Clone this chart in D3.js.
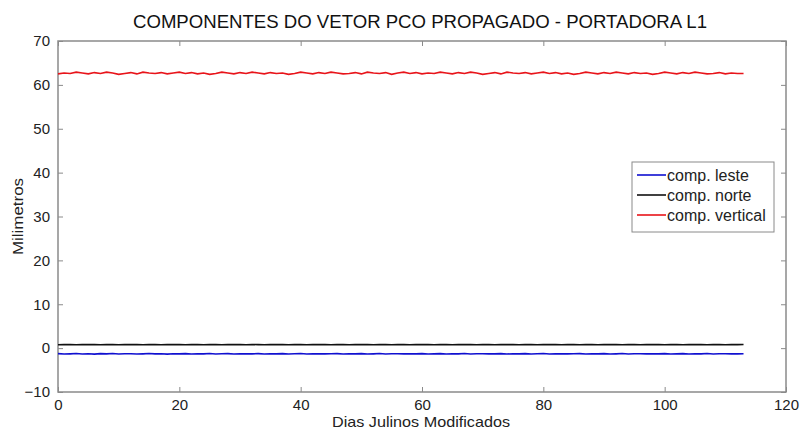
<!DOCTYPE html>
<html>
<head>
<meta charset="utf-8">
<script src="https://cdn.jsdelivr.net/npm/d3@7"></script>
<style>
  body { margin: 0; background: #fff; }
  svg { display: block; font-family: "Liberation Sans", Arial, sans-serif; }
</style>
</head>
<body>
<div id="chart"></div>
<script>
// Chart data (one value per day)
const title = "COMPONENTES DO VETOR PCO PROPAGADO - PORTADORA L1";
const xLabel = "Dias Julinos Modificados";
const yLabel = "Milimetros";
const xTicks = [0, 20, 40, 60, 80, 100, 120];
const yTicks = [-10, 0, 10, 20, 30, 40, 50, 60, 70];
const seriesNames = ["comp. leste", "comp. norte", "comp. vertical"];
const seriesColors = ["#1010d0", "#111111", "#e8141a"];

const days = d3.range(0, 114);

const leste = [
  -1.25, -1.35, -1.30, -1.22, -1.33, -1.28, -1.36, -1.26, -1.31, -1.24,
  -1.34, -1.29, -1.27, -1.35, -1.30, -1.23, -1.32, -1.28, -1.36, -1.27,
  -1.30, -1.25, -1.34, -1.29, -1.31, -1.24, -1.33, -1.28, -1.26, -1.35,
  -1.30, -1.27, -1.32, -1.25, -1.34, -1.29, -1.31, -1.26, -1.33, -1.28,
  -1.24, -1.35, -1.30, -1.27, -1.32, -1.29, -1.25, -1.34, -1.28, -1.31,
  -1.26, -1.33, -1.30, -1.24, -1.35, -1.29, -1.27, -1.32, -1.28, -1.31,
  -1.25, -1.34, -1.30, -1.26, -1.33, -1.28, -1.31, -1.24, -1.35, -1.29,
  -1.27, -1.32, -1.30, -1.25, -1.34, -1.28, -1.31, -1.26, -1.33, -1.29,
  -1.24, -1.35, -1.30, -1.27, -1.32, -1.28, -1.25, -1.34, -1.29, -1.31,
  -1.26, -1.33, -1.30, -1.24, -1.35, -1.28, -1.27, -1.32, -1.29, -1.31,
  -1.25, -1.34, -1.30, -1.26, -1.33, -1.28, -1.31, -1.24, -1.35, -1.29,
  -1.27, -1.32, -1.30, -1.28
];

const norte = [
  0.78, 0.82, 0.80, 0.76, 0.83, 0.79, 0.81, 0.77, 0.84, 0.80,
  0.78, 0.82, 0.79, 0.81, 0.76, 0.83, 0.80, 0.78, 0.82, 0.79,
  0.81, 0.77, 0.84, 0.80, 0.78, 0.82, 0.80, 0.76, 0.83, 0.79,
  0.81, 0.77, 0.82, 0.80, 0.78, 0.84, 0.79, 0.81, 0.76, 0.83,
  0.80, 0.78, 0.82, 0.79, 0.81, 0.77, 0.84, 0.80, 0.78, 0.82,
  0.79, 0.81, 0.76, 0.83, 0.80, 0.78, 0.82, 0.80, 0.77, 0.84,
  0.79, 0.81, 0.78, 0.82, 0.80, 0.76, 0.83, 0.79, 0.81, 0.77,
  0.84, 0.80, 0.78, 0.82, 0.79, 0.81, 0.76, 0.83, 0.80, 0.78,
  0.82, 0.79, 0.81, 0.77, 0.84, 0.80, 0.78, 0.82, 0.80, 0.76,
  0.83, 0.79, 0.81, 0.77, 0.82, 0.80, 0.78, 0.84, 0.79, 0.81,
  0.76, 0.83, 0.80, 0.78, 0.82, 0.79, 0.81, 0.77, 0.84, 0.80,
  0.78, 0.82, 0.79, 0.81
];

const vertical = [
  62.5, 62.7, 62.6, 62.9, 62.7, 62.5, 62.8, 62.6, 62.9, 62.7,
  62.4, 62.6, 62.8, 62.5, 62.9, 62.7, 62.6, 62.8, 62.5, 62.7,
  62.9, 62.6, 62.8, 62.5, 62.7, 62.4, 62.6, 62.9, 62.7, 62.5,
  62.8, 62.6, 62.9, 62.7, 62.5, 62.8, 62.6, 62.7, 62.4, 62.6,
  62.9, 62.7, 62.5, 62.8, 62.6, 62.9, 62.7, 62.5, 62.6, 62.8,
  62.5, 62.9, 62.7, 62.6, 62.8, 62.4, 62.7, 62.9, 62.6, 62.8,
  62.5, 62.7, 62.6, 62.9, 62.7, 62.5, 62.8, 62.6, 62.9, 62.7,
  62.4, 62.6, 62.8, 62.5, 62.9, 62.7, 62.6, 62.8, 62.5, 62.7,
  62.9, 62.6, 62.8, 62.5, 62.7, 62.4, 62.6, 62.9, 62.7, 62.5,
  62.8, 62.6, 62.9, 62.7, 62.5, 62.8, 62.6, 62.7, 62.4, 62.6,
  62.9, 62.7, 62.5, 62.8, 62.6, 62.9, 62.7, 62.5, 62.6, 62.8,
  62.5, 62.7, 62.6, 62.6
];

const seriesValues = [leste, norte, vertical];

const width = 800;
const height = 429;
const margin = { top: 41, right: 14, bottom: 37, left: 58 };

const svg = d3.select("#chart")
    .append("svg")
    .attr("width", width)
    .attr("height", height);

const x = d3.scaleLinear()
    .domain([0, 120])
    .range([margin.left, width - margin.right]);

const y = d3.scaleLinear()
    .domain([-10, 70])
    .range([height - margin.bottom, margin.top]);

// Axes (MATLAB style: ticks inside, on all four sides)
const axisColor = "#8a8a8a";
const tickLen = 5;

function styleAxis(g) {
    g.select(".domain").remove();
    g.selectAll(".tick line").attr("stroke", axisColor);
    g.selectAll(".tick text")
        .attr("fill", "#222")
        .style("font-size", "15px");
}

svg.append("g")
    .attr("transform", `translate(0,${y(-10)})`)
    .call(d3.axisBottom(x).tickValues(xTicks).tickSize(-tickLen).tickPadding(2 + tickLen))
    .call(styleAxis);

svg.append("g")
    .attr("transform", `translate(0,${y(70)})`)
    .call(d3.axisTop(x).tickValues(xTicks).tickSize(-tickLen).tickFormat(""))
    .call(styleAxis);

svg.append("g")
    .attr("transform", `translate(${x(0)},0)`)
    .call(d3.axisLeft(y).tickValues(yTicks).tickSize(-tickLen).tickPadding(3 + tickLen))
    .call(styleAxis);

svg.append("g")
    .attr("transform", `translate(${x(120)},0)`)
    .call(d3.axisRight(y).tickValues(yTicks).tickSize(-tickLen).tickFormat(""))
    .call(styleAxis);

// Plot box
svg.append("rect")
    .attr("x", x(0))
    .attr("y", y(70))
    .attr("width", x(120) - x(0))
    .attr("height", y(-10) - y(70))
    .attr("fill", "none")
    .attr("stroke", axisColor)
    .attr("stroke-width", 1.5);

// Lines
const line = d3.line()
    .x((d, i) => x(days[i]))
    .y(d => y(d));

seriesValues.forEach((vals, k) => {
    svg.append("path")
        .datum(vals)
        .attr("d", line)
        .attr("fill", "none")
        .attr("stroke", seriesColors[k])
        .attr("stroke-width", 1.6);
});

// Title and axis labels
svg.append("text")
    .attr("x", 420)
    .attr("y", 28)
    .attr("text-anchor", "middle")
    .attr("textLength", 574)
    .attr("lengthAdjust", "spacingAndGlyphs")
    .style("font-size", "18px")
    .attr("fill", "#111")
    .text(title);

svg.append("text")
    .attr("x", 421)
    .attr("y", 427)
    .attr("text-anchor", "middle")
    .attr("textLength", 178)
    .attr("lengthAdjust", "spacingAndGlyphs")
    .style("font-size", "15px")
    .attr("fill", "#222")
    .text(xLabel);

svg.append("text")
    .attr("transform", `translate(23,${(y(70) + y(-10)) / 2}) rotate(-90)`)
    .attr("text-anchor", "middle")
    .attr("textLength", 77)
    .attr("lengthAdjust", "spacingAndGlyphs")
    .style("font-size", "15px")
    .attr("fill", "#222")
    .text(yLabel);

// Legend
const legend = svg.append("g").attr("transform", "translate(632,162)");

legend.append("rect")
    .attr("width", 142)
    .attr("height", 70)
    .attr("fill", "#fff")
    .attr("stroke", axisColor);

seriesNames.forEach((name, k) => {
    const ly = 13 + k * 20;
    legend.append("line")
        .attr("x1", 5)
        .attr("x2", 34)
        .attr("y1", ly)
        .attr("y2", ly)
        .attr("stroke", seriesColors[k])
        .attr("stroke-width", 1.6);
    legend.append("text")
        .attr("x", 35)
        .attr("y", ly + 6)
        .style("font-size", "16px")
        .attr("fill", "#222")
        .text(name);
});
</script>
</body>
</html>
